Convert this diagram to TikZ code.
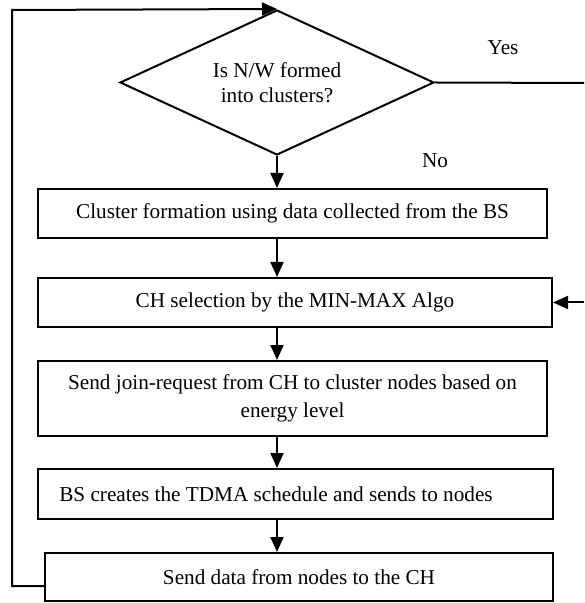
\documentclass[tikz,border=0pt]{standalone}
\usepackage{fontspec}
\setmainfont{Liberation Serif}
\usetikzlibrary{arrows.meta,shapes.geometric}
\tikzset{
	flowbox/.style={draw, rectangle, line width=1pt, inner sep=0pt, align=center},
	flowdec/.style={draw, diamond, aspect=2.17, line width=1pt, inner sep=0pt, align=center},
	flowline/.style={line width=1pt, -{Triangle[width=6.5pt,length=7.5pt]}},
}

\begin{document}
\begin{tikzpicture}[x=0.5pt, y=-0.5pt, font=\fontsize{10.6}{12.8}\selectfont]
			%%%%% START %%%%%
			
			\useasboundingbox (0, 0) rectangle (584, 603);
			
			\node[flowdec, minimum width=157pt, minimum height=72.5pt] (isclus) at (277, 82.5) {Is N/W formed\\into clusters?};
			
			\node[flowbox, minimum width=254.5pt, minimum height=24.5pt] (cluform) at (292.5, 213.5) {Cluster formation using data collected from the BS};
			\node[flowbox, minimum width=257pt, minimum height=24.5pt] (chsel) at (295, 302.5) {CH selection by the MIN-MAX Algo};
			\node[flowbox, minimum width=254.5pt, minimum height=37.5pt] (joinreq) at (292.5, 398.5) {Send join-request from CH to cluster nodes based on\\[1.2pt]energy level};
			\node[flowbox, minimum width=257.5pt, minimum height=25pt] (tdma) at (295.5, 494) {BS creates the TDMA schedule and sends to nodes\hspace*{19.5pt}};
			\node[flowbox, minimum width=254pt, minimum height=24pt] (senddata) at (299, 577) {Send data from nodes to the CH};
			
			\node (yeslbl) at (503, 48) {Yes};
			\node (nolbl) at (435, 161) {No};
			
			\draw[flowline] (isclus.south) -- (isclus.south |- cluform.north);
			\draw[flowline] (isclus.south |- cluform.south) -- (isclus.south |- chsel.north);
			\draw[flowline] (isclus.south |- chsel.south) -- (isclus.south |- joinreq.north);
			\draw[flowline] (isclus.south |- joinreq.south) -- (isclus.south |- tdma.north);
			\draw[flowline] (isclus.south |- tdma.south) -- (isclus.south |- senddata.north);
			
			% loop back to the test
			\coordinate (loopleft) at (12, 10);
			\draw[flowline] ([yshift=-4.5pt]senddata.west) -| (loopleft) -- (isclus.north);
			
			% yes branch, runs off the right side
			\coordinate (yesend) at (584, 83);
			\coordinate (backin) at (584, 302.5);
			\draw[line width=1pt] (isclus.east) -- (yesend);
			\draw[flowline] (backin) -- (chsel.east);
			
			%%%%% END %%%%%
\end{tikzpicture}
\end{document}
